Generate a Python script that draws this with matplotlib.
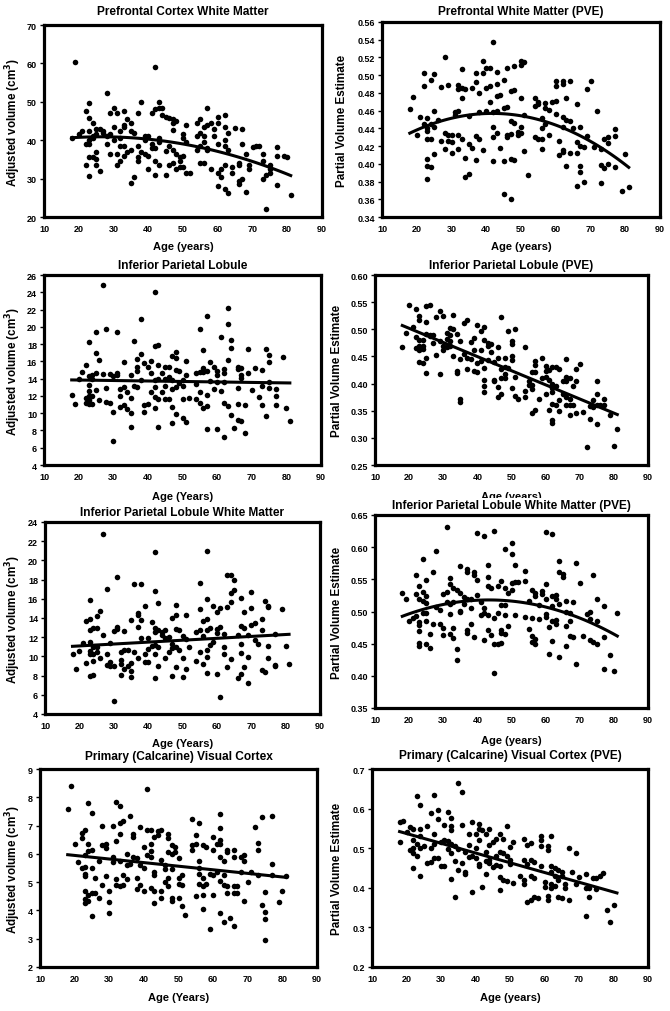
import numpy as np
import matplotlib
matplotlib.use("Agg")
import matplotlib.pyplot as plt

plt.rcParams['font.family'] = ['Liberation Sans', 'DejaVu Sans']
plt.rcParams['font.weight'] = 'bold'

# (age, value) pairs
prefrontal_wm = [
    (18, 40.5), (19, 60.3), (20, 41.5), (21, 42.5), (22, 47.5), (22, 39), (22, 33.5), (23, 49.7), (23, 45.7),
    (23, 42.5), (23, 40), (23, 39), (23, 35.5), (23, 30.7), (24, 44.5), (24, 41), (24, 40.5), (24, 35.5),
    (25, 43), (25, 41.5), (25, 37), (25, 35), (25, 33.5), (26, 43), (26, 32), (27, 42.5), (27, 41.8),
    (28, 52.2), (28, 41), (28, 39), (29, 47), (29, 41.5), (29, 36.5), (30, 48.5), (30, 43.5), (30, 40),
    (31, 47), (31, 36.5), (31, 33.5), (32, 42.5), (32, 40.5), (32, 38.5), (32, 34.5), (33, 47.5), (33, 44),
    (33, 43.5), (33, 38.5), (33, 36), (34, 45.5), (34, 37), (35, 44.5), (35, 42.5), (35, 37.5), (35, 28.8),
    (36, 42), (36, 30.5), (37, 47.2), (37, 38.5), (37, 35.5), (37, 34.5), (38, 50), (38, 37), (39, 41.2),
    (39, 40), (39, 36.5), (40, 41), (40, 36), (40, 32.5), (41, 47), (41, 39), (41, 38), (42, 59), (42, 48),
    (42, 38), (42, 34.5), (42, 31), (43, 50), (43, 48.5), (43, 40.5), (43, 39.5), (43, 33.5), (44, 48.3),
    (44, 46.5), (45, 46), (45, 37.2), (45, 31), (46, 45.8), (46, 38.5), (46, 33.5), (47, 45.5), (47, 44.5),
    (47, 42.7), (47, 37.5), (47, 34), (48, 45), (48, 36.3), (48, 32.5), (49, 35.5), (49, 34.5), (49, 33),
    (50, 41.5), (50, 40.5), (50, 35.8), (50, 33), (51, 44), (51, 39.5), (51, 31.5), (52, 31.5), (54, 44.5),
    (54, 41), (54, 37.5), (55, 45.5), (55, 42), (55, 38.5), (55, 34), (56, 43.5), (56, 41), (56, 39.5),
    (56, 34), (57, 48.3), (57, 44), (57, 38), (57, 37.5), (58, 44.5), (58, 32.5), (59, 43), (59, 41),
    (60, 46), (60, 44.5), (60, 39), (60, 31.5), (60, 28.2), (61, 32.5), (61, 30.5), (62, 46.5), (62, 43.5),
    (62, 40), (62, 38.5), (62, 33.5), (62, 27.3), (63, 42), (63, 37.5), (63, 26.2), (64, 33), (64, 31.5),
    (65, 43.2), (66, 34), (66, 33.5), (66, 29.5), (66, 28.5), (67, 43), (67, 39), (67, 30), (68, 36.5),
    (68, 26.5), (69, 33.5), (69, 32.5), (70, 38.3), (71, 38.5), (72, 38.5), (73, 36.5), (73, 34.5), (73, 30),
    (74, 31), (74, 22.2), (75, 33.5), (75, 32.5), (75, 31.5), (77, 38.2), (77, 36), (77, 28.3), (79, 36),
    (80, 35.5), (81, 25.7),
]
prefrontal_wm_pve = [
    (18, .462), (19, .475), (20, .433), (21, .453), (22, .503), (22, .488), (22, .445), (23, .452), (23, .44),
    (23, .437), (23, .428), (23, .406), (23, .397), (23, .383), (24, .495), (24, .445), (24, .428), (24, .396),
    (25, .501), (25, .46), (25, .442), (25, .411), (26, .45), (27, .487), (27, .426), (28, .521), (28, .435),
    (28, .417), (29, .489), (29, .433), (29, .426), (30, .432), (30, .425), (30, .412), (31, .459), (31, .455),
    (32, .489), (32, .484), (32, .46), (32, .433), (32, .417), (33, .507), (33, .485), (33, .474), (33, .428),
    (34, .484), (34, .407), (34, .385), (35, .454), (35, .422), (35, .388), (36, .485), (36, .418), (37, .503),
    (37, .492), (37, .431), (37, .404), (38, .48), (38, .458), (38, .428), (39, .516), (39, .502), (39, .416),
    (40, .508), (40, .486), (40, .46), (41, .508), (41, .488), (41, .47), (42, .537), (42, .459), (42, .442),
    (42, .43), (42, .403), (43, .504), (43, .49), (43, .477), (43, .46), (43, .435), (44, .478), (44, .418),
    (45, .495), (45, .463), (45, .403), (45, .366), (46, .508), (46, .464), (46, .433), (46, .43), (47, .482),
    (47, .448), (47, .434), (47, .406), (47, .36), (48, .51), (48, .483), (48, .446), (48, .404), (49, .436),
    (49, .433), (50, .516), (50, .512), (50, .474), (50, .441), (50, .435), (51, .515), (51, .455), (51, .414),
    (52, .387), (54, .474), (54, .465), (54, .43), (55, .47), (55, .468), (55, .428), (56, .452), (56, .44),
    (56, .428), (56, .417), (57, .469), (57, .463), (57, .445), (58, .461), (58, .432), (59, .47), (60, .494),
    (60, .488), (60, .471), (60, .456), (61, .426), (61, .41), (62, .494), (62, .49), (62, .453), (62, .441),
    (62, .416), (62, .413), (63, .474), (63, .449), (63, .397), (64, .494), (64, .448), (64, .412), (65, .44),
    (66, .467), (66, .425), (66, .412), (66, .375), (67, .441), (67, .42), (67, .397), (67, .391), (68, .419),
    (68, .38), (69, .484), (69, .431), (70, .493), (71, .419), (72, .46), (73, .417), (73, .399), (73, .378),
    (74, .428), (74, .395), (75, .43), (75, .424), (75, .4), (77, .439), (77, .431), (77, .396), (79, .369),
    (80, .411), (81, .374),
]
inf_parietal = [
    (18, 12.1), (19, 11.1), (20, 14), (21, 14.8), (22, 15.6), (22, 11.8), (22, 11.2), (23, 18.3), (23, 14.3),
    (23, 13.3), (23, 12.6), (23, 12), (23, 11.5), (23, 11.1), (24, 14.4), (24, 14.0), (24, 12), (24, 11.1),
    (25, 19.4), (25, 17), (25, 14.7), (25, 12.7), (26, 16.2), (26, 11.5), (27, 24.8), (27, 14.5), (28, 19.7),
    (28, 12.9), (28, 11.3), (29, 14.5), (29, 11.2), (30, 14.3), (30, 10.1), (30, 6.8), (31, 19.4), (31, 14.6),
    (31, 14.4), (32, 12.8), (32, 12), (32, 10.7), (33, 15.9), (33, 13), (33, 11), (34, 12.5), (34, 10.5),
    (35, 14.4), (35, 11.8), (35, 10), (35, 8.4), (36, 18.4), (36, 13.1), (37, 16.3), (37, 15.4), (37, 14.9),
    (37, 13), (38, 20.9), (38, 16.9), (38, 13.9), (39, 15.8), (39, 10.9), (39, 10.1), (40, 15.4), (40, 11.1),
    (41, 16.1), (41, 14.6), (41, 12.4), (42, 24), (42, 17.8), (42, 13.9), (42, 13), (42, 11.9), (42, 10.6),
    (43, 17.9), (43, 15.6), (43, 14), (43, 11.6), (43, 8.4), (44, 14.6), (44, 12.5), (45, 15.3), (45, 14),
    (45, 13.2), (45, 11.6), (46, 15.3), (46, 14.2), (46, 11.6), (47, 16.6), (47, 13.8), (47, 12.8), (47, 10.7),
    (47, 8.9), (48, 17.1), (48, 16.4), (48, 15), (48, 13), (48, 9.9), (49, 14.9), (49, 13.5), (50, 13.8),
    (50, 13.2), (50, 11.6), (50, 9.5), (51, 16.1), (51, 14.4), (51, 9), (52, 11.8), (54, 14.6), (54, 13.4),
    (54, 11.6), (55, 19.7), (55, 14.8), (55, 12.4), (55, 11.2), (56, 17.3), (56, 15.2), (56, 14.8), (56, 10.6),
    (57, 21.3), (57, 14.9), (57, 12.1), (57, 10.8), (57, 8.2), (58, 15.9), (58, 13.7), (59, 15.4), (59, 12.8),
    (60, 14.9), (60, 14.4), (60, 13.6), (60, 8.2), (61, 18.8), (61, 12.6), (62, 15.1), (62, 14.6), (62, 13.6),
    (62, 11.2), (62, 7.2), (63, 22.2), (63, 20.3), (63, 16.2), (63, 10.8), (64, 18.5), (64, 17.6), (64, 9.8),
    (65, 8.3), (66, 15.4), (66, 15.1), (66, 12.9), (66, 11.1), (66, 9.2), (67, 15.2), (67, 14.4), (67, 14.1),
    (67, 9.1), (68, 10.9), (68, 7.7), (69, 17.4), (69, 14.7), (70, 12.7), (71, 15.2), (72, 11.9), (73, 15),
    (73, 13.2), (73, 10.9), (74, 17.4), (74, 9.7), (75, 16.7), (75, 15.9), (75, 13.6), (75, 12.9), (77, 12.8),
    (77, 12), (77, 10.9), (79, 16.5), (80, 10.6), (81, 9.1),
]
inf_parietal_pve = [
    (18, .467), (19, .494), (20, .545), (21, .505), (22, .537), (22, .485), (22, .465), (23, .525), (23, .518),
    (23, .48), (23, .47), (23, .461), (23, .44), (24, .47), (24, .463), (24, .437), (24, .48), (25, .543),
    (25, .513), (25, .492), (25, .447), (25, .419), (26, .545), (26, .49), (26, .487), (27, .49), (27, .475),
    (28, .522), (28, .452), (29, .533), (29, .478), (29, .417), (30, .525), (30, .47), (30, .462), (31, .494),
    (31, .482), (31, .468), (32, .503), (32, .49), (32, .478), (32, .47), (33, .527), (33, .5), (33, .451),
    (34, .492), (34, .42), (34, .423), (35, .478), (35, .446), (35, .372), (35, .366), (36, .511), (36, .454),
    (37, .517), (37, .447), (37, .426), (38, .476), (38, .446), (39, .484), (39, .462), (39, .423), (40, .508),
    (40, .437), (40, .422), (41, .497), (41, .462), (41, .442), (42, .505), (42, .48), (42, .429), (42, .407),
    (42, .396), (42, .384), (43, .475), (43, .47), (43, .443), (44, .472), (44, .458), (45, .44), (45, .407),
    (45, .404), (46, .467), (46, .447), (46, .393), (46, .376), (47, .523), (47, .427), (47, .41), (47, .38),
    (48, .447), (48, .43), (48, .418), (48, .41), (49, .496), (49, .428), (50, .478), (50, .472), (50, .45),
    (50, .444), (50, .392), (51, .501), (51, .413), (51, .377), (52, .372), (54, .468), (54, .386), (54, .376),
    (55, .405), (55, .398), (56, .422), (56, .398), (56, .39), (56, .345), (57, .442), (57, .435), (57, .422),
    (57, .351), (58, .371), (59, .448), (59, .41), (60, .433), (60, .423), (60, .412), (60, .38), (61, .425),
    (61, .407), (61, .351), (62, .43), (62, .4), (62, .392), (62, .385), (62, .363), (62, .333), (62, .327),
    (63, .43), (63, .396), (63, .36), (64, .426), (64, .37), (64, .35), (65, .405), (65, .38), (66, .445),
    (66, .412), (66, .405), (66, .375), (66, .36), (67, .41), (67, .372), (67, .36), (67, .343), (68, .396),
    (68, .36), (69, .427), (69, .405), (69, .346), (70, .436), (71, .347), (72, .284), (73, .358), (73, .335),
    (74, .369), (74, .357), (75, .404), (75, .38), (75, .36), (75, .325), (76, .36), (77, .371), (77, .36),
    (79, .342), (80, .285), (81, .317),
]
inf_parietal_wm = [
    (18, 10.2), (19, 8.7), (20, 10.6), (21, 11.4), (22, 13.7), (22, 9.3), (23, 15.9), (23, 13.9), (23, 12.7),
    (23, 11.5), (23, 10.6), (23, 10.2), (23, 8), (24, 13), (24, 11), (24, 10.3), (24, 9.5), (24, 8.1),
    (25, 14.2), (25, 13), (25, 11), (25, 10.5), (26, 14.7), (26, 9.8), (27, 22.8), (27, 12.2), (28, 17),
    (28, 10.2), (28, 9.1), (29, 11.4), (29, 9.4), (29, 9), (30, 12.6), (30, 9), (30, 5.4), (31, 18.3),
    (31, 13.1), (31, 12.9), (32, 10.5), (32, 9.6), (32, 9.2), (32, 8.1), (33, 12.6), (33, 10.7), (33, 8.7),
    (34, 10.7), (34, 9), (35, 13.8), (35, 9.3), (35, 8.5), (35, 7.9), (36, 17.5), (36, 10.5), (37, 14.5),
    (37, 14.3), (37, 13.1), (37, 9.8), (38, 17.5), (38, 13.8), (38, 11.9), (39, 15.2), (39, 10.2), (39, 9.4),
    (40, 11.9), (40, 10.8), (40, 9.4), (41, 13.6), (41, 11.1), (42, 20.9), (42, 16.8), (42, 13), (42, 12.5),
    (42, 11.2), (42, 10.2), (42, 7.8), (43, 15.6), (43, 12.7), (43, 11), (43, 9), (44, 12.5), (44, 12.2),
    (45, 12.7), (45, 11.9), (45, 9.8), (46, 12), (46, 10.5), (47, 14), (47, 11.3), (47, 10.9), (47, 8),
    (48, 15.4), (48, 14.3), (48, 12.9), (48, 11), (48, 8.9), (49, 12.7), (49, 10.7), (50, 12.1), (50, 9.8),
    (50, 7.9), (51, 14.3), (51, 11.8), (51, 8.7), (52, 11), (54, 12.5), (54, 9.5), (55, 17.6), (55, 14.9),
    (55, 12.7), (55, 10.5), (56, 13.7), (56, 12.1), (56, 9.2), (57, 21), (57, 16), (57, 13.9), (57, 12.8),
    (57, 10.7), (57, 9.9), (57, 8.3), (58, 13), (58, 11.2), (59, 15.2), (59, 11.5), (60, 14.6), (60, 12.9),
    (60, 12.4), (60, 8.2), (61, 15), (61, 13.1), (61, 5.8), (62, 12.3), (62, 11), (62, 10.3), (63, 18.5),
    (63, 15.1), (63, 8.9), (64, 18.5), (64, 16.6), (64, 15.7), (64, 9.7), (65, 18), (65, 16.9), (66, 12.2),
    (66, 7.7), (67, 16.1), (67, 13.2), (67, 11.3), (67, 10.4), (67, 8.2), (68, 14.6), (68, 13), (68, 8.9),
    (69, 12.2), (69, 9.9), (69, 7.2), (70, 16.7), (70, 15), (70, 13.3), (71, 13.5), (71, 11.7), (72, 11.3),
    (73, 13.9), (73, 12.8), (73, 8.6), (74, 8.4), (74, 15.8), (75, 15.2), (75, 15.1), (75, 11.1), (75, 9.8),
    (77, 12.3), (77, 9.1), (77, 9), (79, 14.9), (80, 11.1), (81, 9.2),
]
inf_parietal_wm_pve = [
    (18, .529), (19, .52), (20, .485), (21, .49), (22, .557), (22, .527), (22, .493), (23, .539), (23, .52),
    (23, .483), (23, .479), (23, .47), (23, .451), (23, .447), (24, .582), (24, .53), (24, .517), (24, .497),
    (25, .549), (25, .524), (25, .513), (25, .497), (25, .485), (25, .45), (26, .465), (26, .444), (27, .561),
    (27, .48), (28, .594), (28, .507), (29, .503), (29, .481), (30, .527), (30, .474), (30, .463), (31, .632),
    (31, .531), (31, .514), (32, .552), (32, .543), (32, .511), (32, .496), (32, .465), (33, .537), (33, .515),
    (33, .474), (33, .459), (34, .534), (34, .442), (34, .424), (35, .571), (35, .528), (35, .501), (35, .499),
    (36, .522), (36, .511), (37, .566), (37, .562), (37, .52), (37, .472), (37, .467), (38, .52), (38, .505),
    (38, .481), (39, .561), (39, .557), (39, .461), (40, .622), (40, .549), (40, .525), (41, .515), (41, .494),
    (42, .617), (42, .505), (42, .497), (42, .455), (43, .573), (43, .553), (43, .54), (43, .495), (43, .471),
    (44, .537), (44, .464), (45, .625), (45, .49), (45, .449), (45, .405), (46, .54), (46, .498), (46, .449),
    (47, .548), (47, .51), (47, .471), (47, .466), (47, .451), (48, .597), (48, .536), (48, .51), (48, .494),
    (48, .465), (49, .528), (49, .477), (50, .606), (50, .59), (50, .545), (50, .533), (51, .572), (51, .546),
    (51, .495), (52, .546), (54, .563), (54, .548), (54, .491), (55, .516), (55, .473), (56, .534), (56, .49),
    (56, .462), (56, .452), (57, .529), (57, .524), (57, .458), (57, .45), (58, .51), (58, .489), (59, .532),
    (59, .527), (60, .624), (60, .543), (60, .519), (60, .496), (60, .492), (61, .476), (61, .434), (62, .62),
    (62, .524), (62, .508), (62, .485), (62, .454), (63, .525), (63, .519), (63, .487), (63, .48), (64, .578),
    (64, .561), (64, .512), (64, .43), (65, .558), (65, .553), (66, .517), (66, .5), (66, .478), (66, .446),
    (67, .497), (67, .486), (67, .462), (68, .515), (68, .461), (69, .575), (69, .419), (70, .545), (71, .462),
    (72, .496), (73, .499), (73, .488), (73, .455), (74, .556), (74, .452), (75, .519), (75, .486), (75, .449),
    (77, .509), (77, .461), (77, .41), (79, .432), (80, .408), (81, .498),
]
calcarine = [
    (18, 7.6), (19, 8.4), (20, 6.35), (21, 5.7), (22, 6.75), (22, 6.55), (22, 5.5), (23, 6.85), (23, 5.95),
    (23, 5.55), (23, 5.3), (23, 5.2), (23, 4.7), (23, 4.4), (23, 4.25), (24, 7.8), (24, 6.35), (24, 6.1),
    (24, 4.55), (24, 4.35), (25, 7.45), (25, 6.15), (25, 5.5), (25, 4.6), (25, 3.8), (26, 5.15), (26, 4.6),
    (27, 5.75), (27, 4.45), (28, 7), (28, 6.3), (28, 4.9), (29, 6.35), (29, 6.2), (29, 5.2), (30, 4.7),
    (30, 4.3), (30, 3.9), (31, 7), (31, 5.9), (31, 5.7), (32, 7.85), (32, 6.45), (32, 5.1), (32, 4.9),
    (33, 7.7), (33, 7.1), (33, 6.7), (33, 5.75), (33, 4.85), (34, 7.15), (34, 5.25), (34, 4.9), (35, 6),
    (35, 5.6), (35, 5.1), (36, 7.35), (36, 5.65), (37, 6.7), (37, 6.6), (37, 5.9), (38, 5.85), (38, 5.15),
    (38, 4.75), (39, 6.95), (39, 5.6), (39, 4.9), (40, 6.25), (40, 5.5), (40, 4.7), (41, 8.3), (41, 6.85),
    (41, 5.95), (42, 6.85), (42, 6.35), (42, 6.1), (42, 5.9), (42, 4.8), (43, 6.6), (43, 5.35), (43, 5.25),
    (43, 4.7), (43, 4.25), (44, 6.8), (44, 6.65), (45, 6.85), (45, 5.8), (45, 4.7), (45, 4.45), (46, 5.6),
    (46, 5.45), (46, 5), (47, 6.7), (47, 6.55), (47, 6.05), (47, 5.15), (47, 4.85), (48, 6.3), (48, 6),
    (48, 5.45), (48, 4.45), (48, 4.35), (49, 6.25), (49, 6.05), (50, 5.85), (50, 5.15), (50, 4.95), (50, 4.45),
    (51, 5.25), (51, 4.9), (51, 4.15), (52, 3.85), (54, 7.25), (54, 6.3), (54, 6.15), (55, 6.65), (55, 6.35),
    (55, 4.5), (56, 7.1), (56, 5.75), (56, 5.5), (56, 5.3), (56, 4.95), (57, 6.3), (57, 5.15), (57, 4.85),
    (57, 4.55), (57, 4.05), (58, 6.25), (58, 4.95), (59, 5.3), (59, 3.35), (60, 6.6), (60, 6.15), (60, 5.25),
    (60, 4.55), (61, 6.35), (61, 5.35), (62, 7.4), (62, 6.9), (62, 6.5), (62, 6.35), (62, 5.9), (62, 5.05),
    (62, 3.9), (63, 5.75), (63, 5.25), (63, 4.9), (63, 3.6), (64, 6.15), (64, 6.05), (64, 4.85), (64, 4.6),
    (65, 3.75), (66, 6.15), (66, 5.9), (66, 4.85), (66, 4.6), (66, 3.45), (67, 4.85), (67, 4.6), (68, 5.35),
    (68, 5.9), (69, 5.95), (69, 5.75), (69, 4.35), (70, 5), (71, 5.35), (72, 6.95), (73, 6.4), (73, 6.15),
    (73, 5.25), (74, 7.3), (74, 4.2), (75, 4.65), (75, 3.95), (75, 3.7), (75, 2.97), (77, 7.35), (77, 5.65),
    (77, 5.25), (79, 4.3), (80, 4.7), (81, 5.2),
]
calcarine_pve = [
    (18, .565), (18, .515), (19, .568), (20, .542), (21, .553), (21, .495), (22, .548), (22, .52), (22, .5),
    (22, .488), (22, .45), (23, .632), (23, .51), (23, .48), (24, .61), (24, .548), (24, .53), (24, .5),
    (24, .43), (25, .505), (26, .555), (26, .462), (27, .59), (27, .5), (27, .464), (28, .635), (28, .535),
    (28, .51), (28, .476), (29, .597), (29, .575), (29, .476), (30, .515), (30, .455), (31, .558), (31, .52),
    (31, .455), (32, .592), (32, .518), (32, .498), (33, .576), (33, .555), (33, .545), (33, .51), (33, .488),
    (33, .422), (34, .505), (34, .468), (34, .376), (35, .665), (35, .498), (35, .445), (36, .641), (36, .558),
    (36, .462), (37, .49), (37, .44), (37, .435), (38, .535), (38, .508), (38, .478), (39, .565), (39, .48),
    (39, .39), (40, .535), (40, .5), (40, .475), (41, .562), (41, .548), (41, .52), (41, .46), (41, .455),
    (42, .545), (42, .403), (43, .535), (43, .49), (43, .468), (43, .436), (44, .548), (44, .508), (44, .47),
    (44, .462), (45, .515), (45, .452), (46, .522), (46, .48), (46, .458), (47, .535), (47, .49), (47, .455),
    (47, .428), (47, .395), (48, .522), (48, .488), (48, .42), (49, .556), (49, .48), (49, .418), (50, .47),
    (50, .46), (50, .502), (51, .515), (51, .412), (53, .43), (54, .522), (54, .47), (54, .42), (54, .41),
    (55, .508), (55, .46), (55, .365), (56, .512), (56, .47), (56, .43), (56, .37), (57, .465), (57, .425),
    (57, .377), (58, .375), (59, .53), (59, .52), (59, .505), (59, .455), (60, .415), (60, .402), (61, .505),
    (61, .495), (61, .38), (61, .37), (62, .532), (62, .455), (62, .44), (62, .41), (62, .4), (63, .45),
    (63, .43), (63, .405), (64, .445), (64, .42), (64, .378), (65, .44), (65, .43), (65, .375), (66, .41),
    (66, .4), (67, .5), (67, .37), (68, .44), (69, .488), (69, .41), (70, .428), (72, .435), (72, .4),
    (72, .33), (73, .4), (73, .378), (74, .425), (75, .425), (75, .398), (76, .43), (77, .438), (78, .345),
    (79, .313), (80, .356),
]

# points: (ages, values, polynomial degree)
fit_lines = [
    ([18, 30, 40, 50, 60, 70, 81], [40.6, 40.9, 40.3, 39.0, 37.0, 34.5, 30.8], 2),
    ([18, 30, 40, 50, 60, 70, 81], [.434, .452, .457, .455, .443, .424, .397], 2),
    ([18, 81], [13.85, 13.5], 1),
    ([18, 81], [.507, .343], 1),
    ([18, 81], [11.05, 12.3], 1),
    ([18, 30, 45, 60, 70, 81], [.493, .510, .518, .508, .489, .462], 2),
    ([18, 81], [5.97, 5.17], 1),
    ([18, 81], [.542, .387], 1),
]

titles = [
    "Prefrontal Cortex White Matter", "Prefrontal White Matter (PVE)",
    "Inferior Parietal Lobule", "Inferior Parietal Lobule (PVE)",
    "Inferior Parietal Lobule White Matter", "Inferior Parietal Lobule White Matter (PVE)",
    "Primary (Calcarine) Visual Cortex", "Primary (Calcarine) Visual Cortex (PVE)",
]
vol_label = "Adjusted volume (cm$^\\mathbf{3}$)"
pve_label = "Partial Volume Estimate"
ylabels = [vol_label, pve_label] * 4
xlabels = ["Age (years)", "Age (years)", "Age (Years)", "Age (years)",
           "Age (Years)", "Age (years)", "Age (Years)", "Age (years)"]
yticks = [
    np.arange(20, 71, 10), np.arange(0.34, 0.5601, 0.02),
    np.arange(4, 27, 2), np.arange(0.25, 0.6001, 0.05),
    np.arange(4, 25, 2), np.arange(0.35, 0.6501, 0.05),
    np.arange(2, 10, 1), np.arange(0.2, 0.7001, 0.1),
]
yfmt = ["{:.0f}", "{:.2f}", "{:.0f}", "{:.2f}", "{:.0f}", "{:.2f}", "{:.0f}", "{:.1f}"]
xticks = np.arange(10, 91, 10)

datasets = [prefrontal_wm, prefrontal_wm_pve, inf_parietal, inf_parietal_pve,
            inf_parietal_wm, inf_parietal_wm_pve, calcarine, calcarine_pve]

# layout in pixels: axes (left, top, right, bottom), title y,
# right edge of the y label, top of the x label
W, H = 670, 1012
boxes = [
    (44, 26, 322, 218, 12, 23, 242),
    (382, 23, 660, 218, 12, 348, 242),
    (44, 276, 321, 466, 266, 23, 492),
    (375, 276, 648, 466, 266, 343, 492),
    (45, 523, 320, 715, 513, 23, 739),
    (375, 516, 648, 709, 506, 343, 736),
    (40, 770, 317, 968, 757, 23, 993),
    (372, 770, 648, 968, 756, 343, 993),
]

fig = plt.figure(figsize=(W / 100, H / 100), dpi=100)

for i, pts in enumerate(datasets):
    l, t, r, b, ty, ylx, xly = boxes[i]
    ax = fig.add_axes([l / W, 1 - b / H, (r - l) / W, (b - t) / H])
    age, val = np.array(pts).T
    ax.scatter(age, val, s=16, color="black", linewidths=0, zorder=2)

    fx, fy, deg = fit_lines[i]
    coef = np.polyfit(fx, fy, deg)
    xs = np.linspace(fx[0], fx[-1], 100)
    ax.plot(xs, np.polyval(coef, xs), color="black", lw=2.2, zorder=3)

    ax.set_xlim(10, 90)
    ax.set_ylim(yticks[i][0], yticks[i][-1])
    ax.set_xticks(xticks)
    ax.set_yticks(yticks[i])
    ax.set_yticklabels([yfmt[i].format(v) for v in yticks[i]])
    ax.tick_params(axis="both", labelsize=6.5, width=1, length=3, pad=2)
    ax.tick_params(axis="x", length=0, pad=5)
    for sp in ax.spines.values():
        sp.set_linewidth(2.3)

    ax.set_ylabel(ylabels[i], fontsize=8.4, fontweight="bold")
    ax.set_xlabel(xlabels[i], fontsize=8, fontweight="bold")
    ax.yaxis.set_label_coords((ylx - l) / (r - l), 0.5)
    ax.xaxis.set_label_coords(0.5, -(xly - b) / (b - t))

    # titles sit on a white box, partly hiding the x label above them as in the source
    fig.text(((l + r) / 2) / W, 1 - ty / H, titles[i], ha="center", va="center",
             fontsize=8.6, fontweight="bold", zorder=10,
             bbox=dict(facecolor="white", edgecolor="none", pad=1))

fig.savefig("out.png", dpi=100)
